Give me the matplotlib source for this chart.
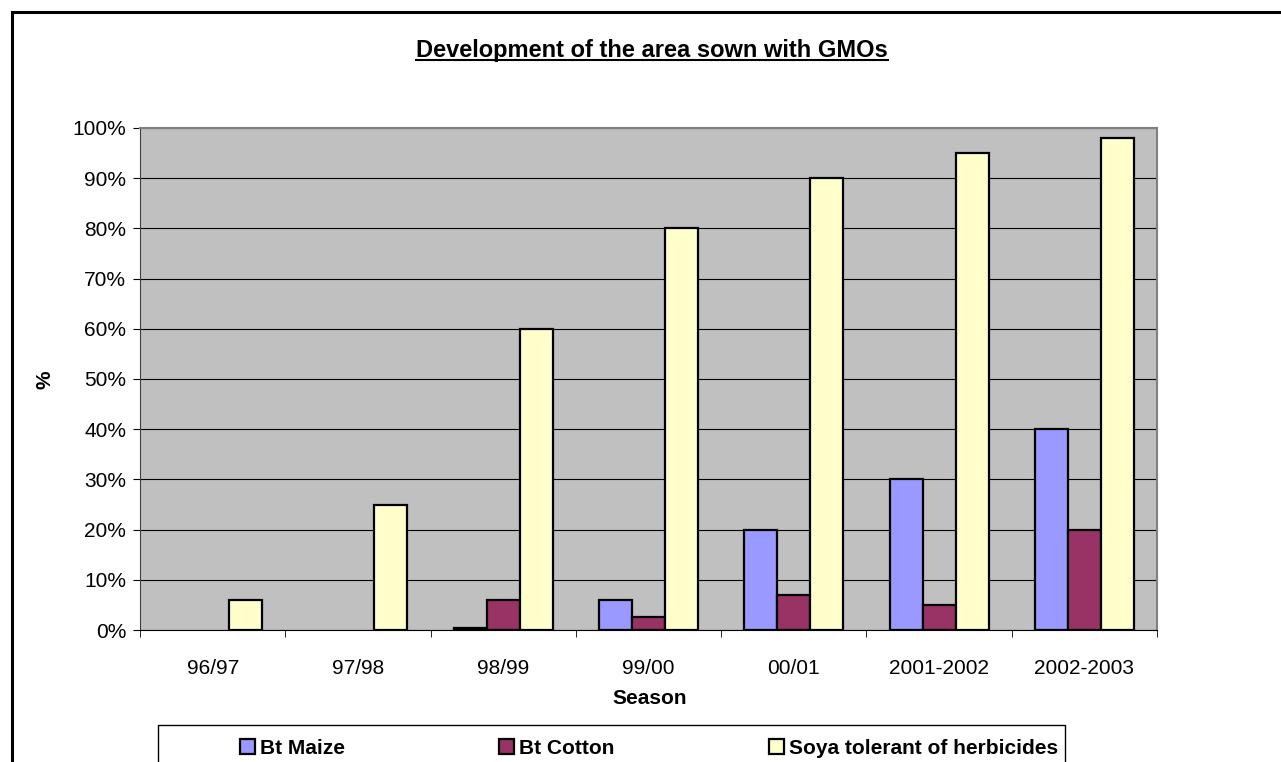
import numpy as np
import matplotlib.pyplot as plt
from matplotlib.patches import Rectangle, Patch

plt.rcParams['font.family'] = ['Liberation Sans', 'DejaVu Sans']

seasons = ['96/97', '97/98', '98/99', '99/00', '00/01', '2001-2002', '2002-2003']
bt_maize = [0, 0, 0.4, 6, 20, 30, 40]
bt_cotton = [0, 0, 6, 2.5, 7, 5, 20]
soya = [6, 25, 60, 80, 90, 95, 98]

series = [('Bt Maize', bt_maize, '#9999FF'),
          ('Bt Cotton', bt_cotton, '#993366'),
          ('Soya tolerant of herbicides', soya, '#FFFFCC')]

fig = plt.figure(figsize=(12.81, 7.62), dpi=100)
ax = fig.add_axes([140 / 1281, 1 - 630 / 762, 1017 / 1281, 502 / 762])
ax.set_facecolor('#C0C0C0')

x = np.arange(len(seasons))
w = 0.227
handles = []
for i, (name, vals, col) in enumerate(series):
    vals = np.array(vals, dtype=float)
    # Excel draws nothing for a zero value
    lws = [1.6 if v > 0 else 0 for v in vals]
    ax.bar(x + (i - 1) * w, vals, width=w, color=col, edgecolor='black',
           linewidth=lws, zorder=3)
    handles.append(Patch(facecolor=col, edgecolor='black', linewidth=1.6, label=name))

ax.set_xlim(-0.5, len(seasons) - 0.5)
ax.set_ylim(0, 100)
ax.set_yticks(np.arange(0, 101, 10))
ax.set_yticklabels([f'{v}%' for v in range(0, 101, 10)], fontsize=15)
ax.yaxis.grid(True, color='black', linewidth=0.8, zorder=1)

ax.set_xticks(x)
ax.set_xticklabels(seasons, fontsize=15)
ax.set_xticks(np.arange(-0.5, len(seasons)), minor=True)
ax.tick_params(axis='x', which='major', length=0, pad=21)
ax.tick_params(axis='x', which='minor', length=5, direction='out', color='black')
ax.tick_params(axis='y', length=5, direction='out', color='black', pad=5)

for s in ['top', 'right']:
    ax.spines[s].set_color('#808080')
    ax.spines[s].set_linewidth(1.5)
ax.spines['left'].set_color('#404040')
ax.spines['bottom'].set_color('black')

fig.text(650 / 1281, 1 - 698 / 762, 'Season', ha='center', va='center',
         fontsize=15, fontweight='bold')
fig.text(45 / 1281, 1 - 380 / 762, '%', ha='center', va='center',
         fontsize=15, fontweight='bold', rotation=90)

tx = fig.text(652 / 1281, 1 - 50 / 762, 'Development of the area sown with GMOs',
              ha='center', va='center', fontsize=17, fontweight='bold')
fig.canvas.draw()
bb = tx.get_window_extent().transformed(fig.transFigure.inverted())
fig.add_artist(plt.Line2D([bb.x0, bb.x1], [bb.y0 + 0.002, bb.y0 + 0.002],
                          transform=fig.transFigure, color='black', linewidth=1.5))

# outer chart frame
fig.add_artist(Rectangle((12 / 1281, -0.1), 1.2, 1 - 12 / 762 + 0.1,
                         transform=fig.transFigure, fill=False,
                         edgecolor='black', linewidth=2.2))

# legend box
fig.add_artist(Rectangle((158 / 1281, -0.1), 907 / 1281, 1 - 725 / 762 + 0.1,
                         transform=fig.transFigure, fill=False,
                         edgecolor='black', linewidth=1.0))
leg = fig.legend(handles=handles, loc='center', ncol=3, frameon=False,
                 bbox_to_anchor=(649 / 1281, 1 - 748 / 762),
                 prop={'weight': 'bold', 'size': 15},
                 handlelength=0.72, handleheight=0.72, handletextpad=0.25,
                 columnspacing=7.4, borderpad=0, borderaxespad=0)

fig.savefig('out.png', dpi=100)
